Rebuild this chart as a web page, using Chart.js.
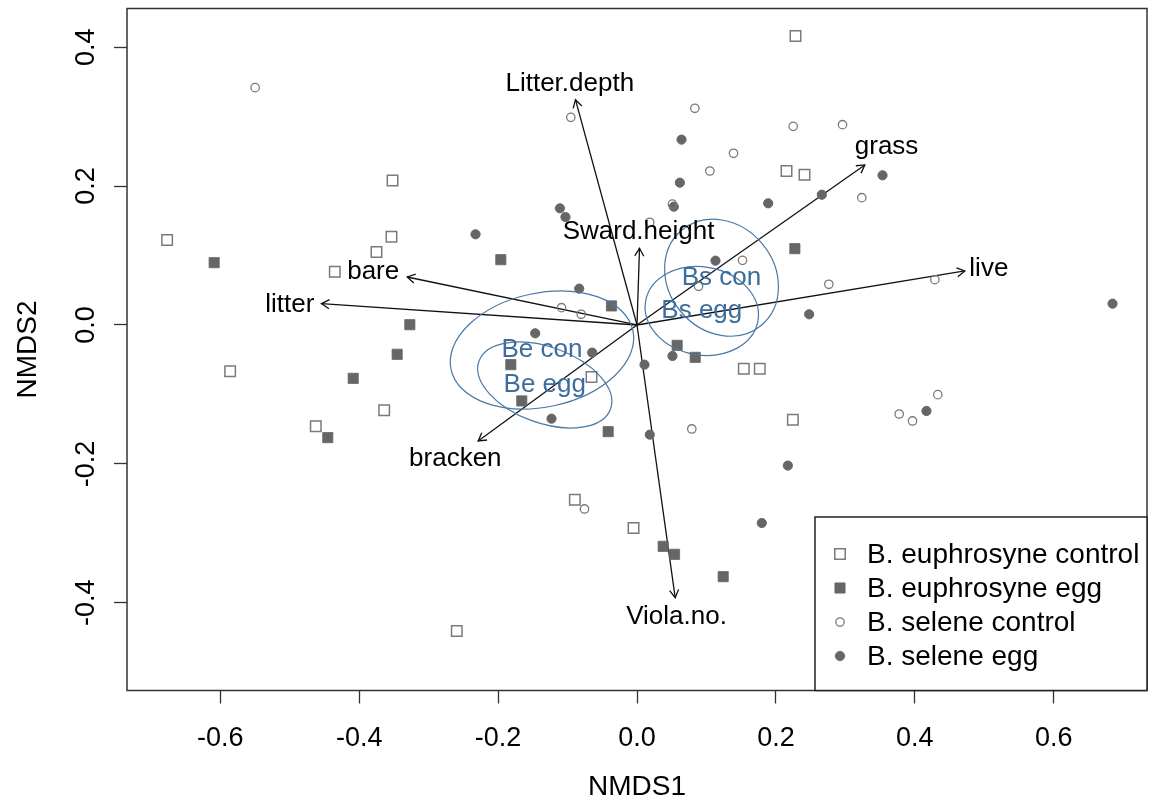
<!DOCTYPE html>
<html>
<head>
<meta charset="utf-8">
<script src="https://cdn.jsdelivr.net/npm/chart.js@4.4.1/dist/chart.umd.min.js"></script>
<style>
  html, body { margin: 0; padding: 0; background: #fff; }
  #wrap { width: 1151px; height: 809px; }
</style>
</head>
<body>
<div id="wrap"><canvas id="nmds" width="1151" height="809"></canvas></div>
<script>
// site scores (NMDS1, NMDS2)
const euphControl = [
  [-0.352, 0.208], [-0.3535, 0.127], [-0.6765, 0.1224], [0.2282, 0.4161],
  [0.2153, 0.2217], [0.2412, 0.2164], [-0.3751, 0.1051], [-0.4351, 0.0768],
  [-0.0655, -0.0749], [-0.5858, -0.0667], [-0.364, -0.1229], [-0.4625, -0.1459],
  [0.1538, -0.0629], [0.1768, -0.0629], [0.2244, -0.1363], [-0.0895, -0.2515],
  [-0.005, -0.2923], [-0.2595, -0.4406]
];
const euphEgg = [
  [-0.6088, 0.0897], [-0.1961, 0.094], [-0.0367, 0.0274], [-0.3271, 0.0004],
  [-0.3453, -0.0422], [-0.1817, -0.0571], [-0.4086, -0.0768], [-0.1659, -0.1094],
  [-0.4452, -0.1622], [-0.0415, -0.1536], [0.2273, 0.1099], [0.0578, -0.0293],
  [0.0838, -0.0466], [0.0377, -0.3187], [0.054, -0.3302], [0.1241, -0.3624]
];
const seleneControl = [
  [-0.5498, 0.3417], [-0.0953, 0.299], [0.0833, 0.312], [0.2249, 0.286],
  [0.2959, 0.2884], [0.139, 0.2472], [0.1049, 0.2217], [0.3237, 0.1833],
  [0.0184, 0.1479], [0.051, 0.174], [-0.1087, 0.0249], [-0.0803, 0.0154],
  [0.1519, 0.0931], [0.0886, 0.0557], [0.2762, 0.0586], [0.4288, 0.0653],
  [0.4331, -0.1003], [0.3775, -0.1282], [0.3967, -0.1382], [0.0789, -0.1497],
  [-0.0756, -0.2649]
];
const seleneEgg = [
  [-0.111, 0.168], [-0.103, 0.1555], [-0.2325, 0.1306], [0.0641, 0.2669],
  [0.0617, 0.2049], [0.053, 0.1704], [0.3535, 0.2155], [0.1889, 0.1752],
  [0.2661, 0.1876], [-0.0832, 0.0523], [-0.1466, -0.012], [-0.0645, -0.0398],
  [-0.1231, -0.1349], [0.113, 0.0926], [0.2479, 0.0154], [0.6847, 0.0307],
  [0.0511, -0.0446], [0.0108, -0.0571], [0.4168, -0.1238], [0.0184, -0.1579],
  [0.2172, -0.2025], [0.1797, -0.2851]
];
const groupNames = ["B. euphrosyne control", "B. euphrosyne egg", "B. selene control", "B. selene egg"];

// envfit vectors: arrow tips and where their names sit
const vecNames = ["Litter.depth", "grass", "Sward.height", "live", "bare", "litter", "bracken", "Viola.no."];
const vecTips = [
  [-0.0886, 0.3244], [0.328, 0.2304], [0.0036, 0.1104], [0.472, 0.0778],
  [-0.3309, 0.0691], [-0.4543, 0.0307], [-0.2287, -0.167], [0.055, -0.3927]
];
const vecLabelPos = [
  [-0.0968, 0.347], [0.3593, 0.2559], [0.0022, 0.1339], [0.5066, 0.0802],
  [-0.3798, 0.0763], [-0.4999, 0.0292], [-0.2616, -0.1929], [0.0569, -0.4204]
];

// ordiellipse: centre, semi-axes (data units), rotation in degrees
const ellNames = ["Be con", "Be egg", "Bs con", "Bs egg"];
const ellCentres = [[-0.1368, -0.036], [-0.1328, -0.0864], [0.1217, 0.0681], [0.0933, 0.0202]];
const ellAxes = [[0.1339, 0.0821], [0.1008, 0.0547], [0.0893, 0.0763], [0.0821, 0.0634]];
const ellAngles = [12, -20, -50, -10];

const xTicks = [-0.6, -0.4, -0.2, 0, 0.2, 0.4, 0.6];
const yTicks = [-0.4, -0.2, 0, 0.2, 0.4];
const xRange = [-0.7343, 0.7343];
const yRange = [-0.5263, 0.4557];

const FONT = "'Liberation Sans', Arial, sans-serif";
const grey = "#666666";
const greyLine = "#7a7a7a";
const ellColour = "#4a78a4";

function toXY(arr) {
  return arr.map(p => ({ x: p[0], y: p[1] }));
}

const pointSets = [
  { label: groupNames[0], data: toXY(euphControl), pointStyle: "rect", pointRadius: 7.4,
    backgroundColor: "rgba(0,0,0,0)", borderColor: greyLine, borderWidth: 1.5 },
  { label: groupNames[1], data: toXY(euphEgg), pointStyle: "rect", pointRadius: 7.2,
    backgroundColor: grey, borderColor: grey, borderWidth: 0.8 },
  { label: groupNames[2], data: toXY(seleneControl), pointStyle: "circle", pointRadius: 4.2,
    backgroundColor: "rgba(0,0,0,0)", borderColor: greyLine, borderWidth: 1.3 },
  { label: groupNames[3], data: toXY(seleneEgg), pointStyle: "circle", pointRadius: 4.6,
    backgroundColor: grey, borderColor: grey, borderWidth: 1 }
];

const arrowSets = vecTips.map((t, i) => ({
  label: vecNames[i],
  data: [{ x: 0, y: 0 }, { x: t[0], y: t[1] }],
  showLine: true,
  pointRadius: 0,
  borderColor: "#111",
  borderWidth: 1.3,
  fill: false
}));

// keep the plot box where the reference has it
function noScalePadding(s) {
  s.paddingTop = 0;
  s.paddingBottom = 0;
  s.paddingLeft = 0;
  s.paddingRight = 0;
}

const extras = {
  id: "extras",
  afterDatasetsDraw(chart) {
    const ctx = chart.ctx;
    const xs = chart.scales.x, ys = chart.scales.y;
    const px = v => xs.getPixelForValue(v);
    const py = v => ys.getPixelForValue(v);
    const ux = px(1) - px(0), uy = py(0) - py(1);
    ctx.save();

    // ellipses
    ctx.strokeStyle = ellColour;
    ctx.lineWidth = 1.2;
    ellCentres.forEach((c, i) => {
      ctx.save();
      ctx.translate(px(c[0]), py(c[1]));
      ctx.scale(ux, -uy);
      ctx.rotate(ellAngles[i] * Math.PI / 180);
      ctx.beginPath();
      ctx.ellipse(0, 0, ellAxes[i][0], ellAxes[i][1], 0, 0, Math.PI * 2);
      ctx.restore();
      ctx.stroke();
    });

    // arrow heads
    ctx.strokeStyle = "#111";
    ctx.lineWidth = 1.3;
    vecTips.forEach(t => {
      const x0 = px(0), y0 = py(0), x1 = px(t[0]), y1 = py(t[1]);
      const ang = Math.atan2(y1 - y0, x1 - x0);
      const len = 9, spread = Math.PI / 6;
      ctx.beginPath();
      ctx.moveTo(x1 - len * Math.cos(ang - spread), y1 - len * Math.sin(ang - spread));
      ctx.lineTo(x1, y1);
      ctx.lineTo(x1 - len * Math.cos(ang + spread), y1 - len * Math.sin(ang + spread));
      ctx.stroke();
    });

    // vector names
    ctx.fillStyle = "#000";
    ctx.font = "26px " + FONT;
    ctx.textAlign = "center";
    ctx.textBaseline = "middle";
    vecNames.forEach((n, i) => {
      ctx.fillText(n, px(vecLabelPos[i][0]), py(vecLabelPos[i][1]));
    });

    // group names at ellipse centres
    ctx.fillStyle = "#3d6d9c";
    ellNames.forEach((n, i) => {
      ctx.fillText(n, px(ellCentres[i][0]), py(ellCentres[i][1]));
    });
    ctx.restore();
  },
  afterDraw(chart) {
    const ctx = chart.ctx;
    const a = chart.chartArea;
    ctx.save();
    // plot box
    ctx.strokeStyle = "#333";
    ctx.lineWidth = 1.5;
    ctx.strokeRect(a.left, a.top, a.right - a.left, a.bottom - a.top);

    // legend, bottom right
    const lx = 815, ly = 517;
    ctx.fillStyle = "#fff";
    ctx.fillRect(lx, ly, a.right - lx, a.bottom - ly);
    ctx.strokeStyle = "#222";
    ctx.lineWidth = 1.5;
    ctx.strokeRect(lx, ly, a.right - lx, a.bottom - ly);
    const rows = [555, 589, 623, 657];
    const mx = 840;
    ctx.font = "28px " + FONT;
    ctx.textAlign = "left";
    ctx.textBaseline = "middle";
    pointSets.forEach((ds, i) => {
      const y = rows[i] - 1;
      ctx.beginPath();
      if (ds.pointStyle === "rect") {
        const h = ds.pointRadius * Math.SQRT1_2;
        ctx.rect(mx - h, y - h, 2 * h, 2 * h);
      } else {
        ctx.arc(mx, y, ds.pointRadius, 0, Math.PI * 2);
      }
      ctx.fillStyle = ds.backgroundColor;
      ctx.fill();
      ctx.strokeStyle = ds.borderColor;
      ctx.lineWidth = ds.borderWidth;
      ctx.stroke();
      ctx.fillStyle = "#000";
      ctx.fillText(ds.label, 867, rows[i]);
    });
    ctx.restore();
  }
};

new Chart(document.getElementById("nmds"), {
  type: "scatter",
  data: { datasets: pointSets.concat(arrowSets) },
  options: {
    responsive: false,
    animation: false,
    events: [],
    layout: { autoPadding: false, padding: { top: 8.5, right: 4, left: 0, bottom: 0 } },
    plugins: { legend: { display: false }, tooltip: { enabled: false } },
    scales: {
      x: {
        type: "linear",
        min: xRange[0],
        max: xRange[1],
        afterBuildTicks: s => { s.ticks = xTicks.map(v => ({ value: v })); },
        afterFit: s => { s.height = 118.5; noScalePadding(s); },
        border: { display: false },
        grid: { drawOnChartArea: false, drawTicks: true, tickLength: 13, tickColor: "#333", tickWidth: 1.3 },
        ticks: {
          color: "#000", font: { family: FONT, size: 27 }, padding: 19,
          maxRotation: 0, minRotation: 0, autoSkip: false,
          callback: v => Number(v).toFixed(1)
        },
        title: { display: true, text: "NMDS1", color: "#000", font: { family: FONT, size: 28 },
          padding: { top: 0, bottom: 5 } }
      },
      y: {
        type: "linear",
        min: yRange[0],
        max: yRange[1],
        afterBuildTicks: s => { s.ticks = yTicks.map(v => ({ value: v })); },
        afterFit: s => { s.width = 127; noScalePadding(s); },
        border: { display: false },
        grid: { drawOnChartArea: false, drawTicks: true, tickLength: 13, tickColor: "#333", tickWidth: 1.3 },
        ticks: {
          color: "#000", font: { family: FONT, size: 27 }, padding: 4,
          minRotation: 90, maxRotation: 90, crossAlign: "center", autoSkip: false,
          callback: v => Number(v).toFixed(1)
        },
        title: { display: true, text: "NMDS2", color: "#000", font: { family: FONT, size: 28 },
          padding: { top: 11, bottom: 0 } }
      }
    }
  },
  plugins: [extras]
});
</script>
</body>
</html>
